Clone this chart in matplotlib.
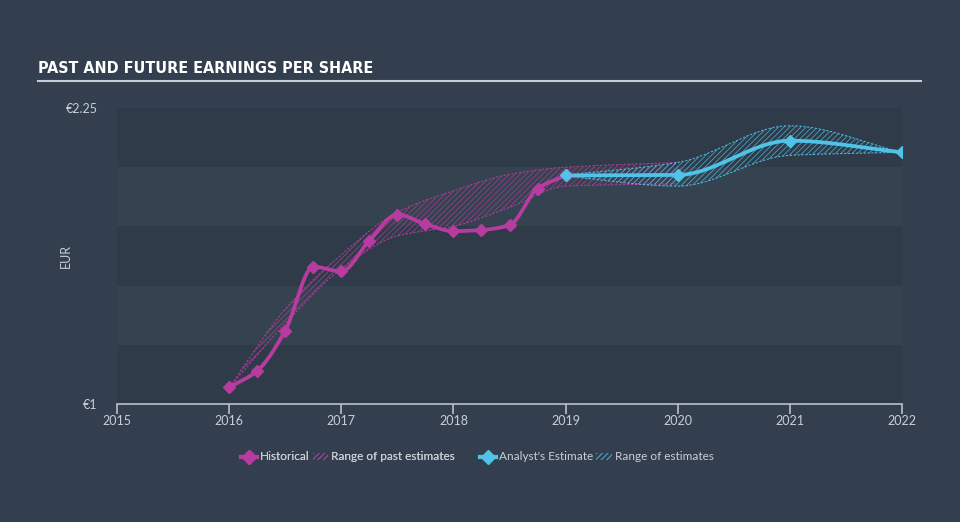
import numpy as np
import matplotlib
matplotlib.use('Agg')
import matplotlib.pyplot as plt
from matplotlib.lines import Line2D
from matplotlib.patches import Patch

# data
hist_x = [2016.0, 2016.25, 2016.5, 2016.75, 2017.0, 2017.25, 2017.5, 2017.75,
          2018.0, 2018.25, 2018.5, 2018.75, 2019.0]
hist_eps = [1.07, 1.14, 1.31, 1.58, 1.56, 1.69, 1.80, 1.76,
            1.73, 1.735, 1.755, 1.91, 1.965]

est_x = [2019.0, 2020.0, 2021.0, 2022.0]
est_eps = [1.965, 1.967, 2.112, 2.063]

past_rng_x = [2016.0, 2016.5, 2017.0, 2017.5, 2018.0, 2018.5, 2019.0, 2020.0]
past_rng_low = [1.07, 1.34, 1.57, 1.71, 1.75, 1.83, 1.92, 1.93]
past_rng_high = [1.07, 1.40, 1.63, 1.81, 1.90, 1.97, 2.00, 2.02]

fut_rng_x = [2019.0, 2020.0, 2021.0, 2022.0]
fut_rng_low = [1.962, 1.92, 2.05, 2.063]
fut_rng_high = [1.967, 2.02, 2.175, 2.063]

years = [2015, 2016, 2017, 2018, 2019, 2020, 2021, 2022]

BG = '#333f4e'
BAND_LIGHT = '#354250'
BAND_DARK = '#2f3b49'
TXT = '#c9ced6'
MAGENTA = '#b83ca0'
BLUE = '#4fc3e8'


def smooth(x, y, n=200):
    # monotone cubic (pchip-like) curve through the points
    x = np.asarray(x, float)
    y = np.asarray(y, float)
    h = np.diff(x)
    d = np.diff(y) / h
    m = np.zeros_like(y)
    for i in range(1, len(y) - 1):
        if d[i - 1] * d[i] > 0:
            w1 = 2 * h[i] + h[i - 1]
            w2 = h[i] + 2 * h[i - 1]
            m[i] = (w1 + w2) / (w1 / d[i - 1] + w2 / d[i])
    m[0] = d[0]
    m[-1] = d[-1]
    xs = np.linspace(x[0], x[-1], n)
    idx = np.clip(np.searchsorted(x, xs) - 1, 0, len(h) - 1)
    t = (xs - x[idx]) / h[idx]
    h00 = 2 * t**3 - 3 * t**2 + 1
    h10 = t**3 - 2 * t**2 + t
    h01 = -2 * t**3 + 3 * t**2
    h11 = t**3 - t**2
    ys = h00 * y[idx] + h10 * h[idx] * m[idx] + h01 * y[idx + 1] + h11 * h[idx] * m[idx + 1]
    return xs, ys


plt.rcParams['hatch.linewidth'] = 0.6
plt.rcParams['font.family'] = ['Lato', 'DejaVu Sans']

fig = plt.figure(figsize=(9.6, 5.22), dpi=100, facecolor=BG)
ax = fig.add_axes([117 / 960, 1 - 404 / 522, 785 / 960, 296 / 522])
ax.set_facecolor(BAND_LIGHT)
ax.set_xlim(2015, 2022)
ax.set_ylim(1, 2.25)

for lo in [1.0, 1.5, 2.0]:
    ax.axhspan(lo, lo + 0.25, color=BAND_DARK, lw=0, zorder=0)

# ranges of estimates
for rx, rlo, rhi, col in [(past_rng_x, past_rng_low, past_rng_high, MAGENTA),
                          (fut_rng_x, fut_rng_low, fut_rng_high, BLUE)]:
    xs, ylo = smooth(rx, rlo)
    _, yhi = smooth(rx, rhi)
    ax.fill_between(xs, ylo, yhi, facecolor='none', edgecolor=col, hatch='//////',
                    lw=0, alpha=0.75, zorder=2)
    ax.plot(xs, ylo, color=col, lw=0.8, ls=(0, (2, 1.5)), alpha=0.9, zorder=2)
    ax.plot(xs, yhi, color=col, lw=0.8, ls=(0, (2, 1.5)), alpha=0.9, zorder=2)

xs, ys = smooth(hist_x, hist_eps)
ax.plot(xs, ys, color=MAGENTA, lw=2.7, zorder=3, solid_capstyle='round')
ax.plot(hist_x, hist_eps, 'D', color=MAGENTA, ms=6.5, zorder=4)

xs, ys = smooth(est_x, est_eps)
ax.plot(xs, ys, color=BLUE, lw=2.7, zorder=3, solid_capstyle='round')
ax.plot(est_x, est_eps, 'D', color=BLUE, ms=6.5, zorder=4)

for s in ['top', 'right', 'left']:
    ax.spines[s].set_visible(False)
ax.spines['bottom'].set_color('#b8c0cc')
ax.spines['bottom'].set_linewidth(1.2)
ax.set_xticks(years)
ax.set_xticklabels([str(y) for y in years])
ax.set_yticks([1, 2.25])
ax.set_yticklabels(['€1', '€2.25'])
ax.tick_params(axis='x', colors='#b8c0cc', length=7, width=1.2, labelcolor=TXT,
               labelsize=9, pad=1)
ax.tick_params(axis='y', length=0, labelcolor=TXT, labelsize=9, pad=14)
ax.set_ylabel('EUR', color=TXT, fontsize=9)
ax.yaxis.set_label_coords((72 - 117) / 785, 0.5)

# title and underline
fig.text(38 / 960, 1 - 73 / 522, 'PAST AND FUTURE EARNINGS PER SHARE',
         family='DejaVu Sans', fontstretch='condensed', fontweight='bold',
         fontsize=11.5, color='white', va='baseline')
fig.add_artist(Line2D([38 / 960, 921 / 960], [1 - 81 / 522] * 2,
                      color='#c8cdd3', lw=1.5, transform=fig.transFigure))

leg_kw = dict(ncol=2, frameon=False, fontsize=8.5, labelcolor=TXT,
              handlelength=1.3, handleheight=0.6, handletextpad=0.25,
              columnspacing=0.3)
leg1 = fig.legend([Line2D([], [], color=MAGENTA, lw=3, marker='D', ms=7),
                   Patch(facecolor='none', edgecolor=MAGENTA, hatch='//////', lw=0)],
                  ['Historical', 'Range of past estimates'],
                  loc='center', bbox_to_anchor=(348 / 960, 1 - 457 / 522), **leg_kw)
fig.add_artist(leg1)
fig.legend([Line2D([], [], color=BLUE, lw=3, marker='D', ms=7),
            Patch(facecolor='none', edgecolor=BLUE, hatch='//////', lw=0)],
           ["Analyst's Estimate", 'Range of estimates'],
           loc='center', bbox_to_anchor=(597 / 960, 1 - 457 / 522), **leg_kw)

fig.savefig('out.png', dpi=100, facecolor=BG)
